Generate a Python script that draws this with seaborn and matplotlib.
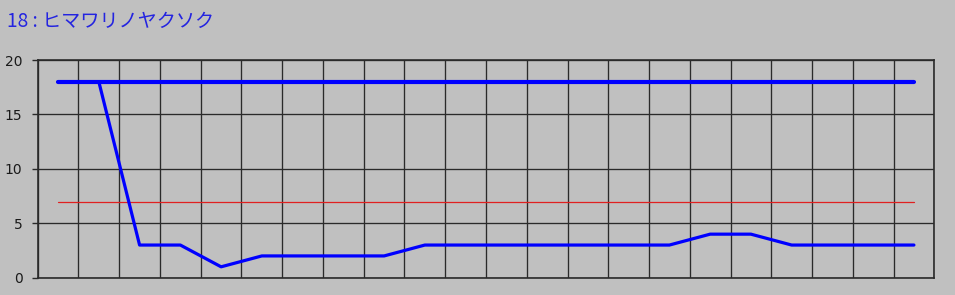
import numpy as np
import pandas as pd
import matplotlib
matplotlib.use("Agg")
import matplotlib.pyplot as plt
import seaborn as sns

title = "18 : ヒマワリノヤクソク"
positions = list(range(1, 23))
top_series = [18] * 22
rank_series = [18, 18, 3, 3, 1, 2, 2, 2, 2, 3, 3, 3, 3, 3, 3, 3, 4, 4, 3, 3, 3, 3]
avg_series = [7] * 22
y_ticks = [0, 5, 10, 15, 20]

sns.set_theme(style="white")
plt.rcParams['font.family'] = ['DejaVu Sans']

bg = "#c0c0c0"
fig = plt.figure(figsize=(9.55, 2.95), dpi=100, facecolor=bg)
ax = fig.add_axes([37.7 / 955, 1 - 277.7 / 295, (934.3 - 37.7) / 955, (277.7 - 60) / 295])
ax.set_facecolor(bg)

df = pd.DataFrame({"x": positions, "top": top_series, "rank": rank_series, "avg": avg_series})

sns.lineplot(data=df, x="x", y="avg", ax=ax, color="#e02020", linewidth=0.9, zorder=3)
sns.lineplot(data=df, x="x", y="top", ax=ax, color="#0000ff", linewidth=3.0, zorder=4)
sns.lineplot(data=df, x="x", y="rank", ax=ax, color="#0000ff", linewidth=2.3, zorder=5)

ax.set_xlim(0.5, 22.5)
ax.set_ylim(0, 20)
ax.set_xticks(np.arange(0.5, 23, 1.0))
ax.set_xticklabels([])
ax.set_yticks(y_ticks)
ax.set_yticklabels([str(v) for v in y_ticks])
ax.set_xlabel("")
ax.set_ylabel("")
ax.grid(True, color="#2a2a2a", linewidth=0.95)
ax.set_axisbelow(True)
ax.tick_params(axis="x", length=0)
ax.tick_params(axis="y", length=4, width=1, color="#2a2a2a", pad=7,
               labelsize=10, labelcolor="#1a1a1a", left=True)
for s in ax.spines.values():
    s.set_color("#2a2a2a")
    s.set_linewidth(1.2)
    s.set_visible(True)

fig.text(7 / 955, 1 - 27 / 295, title, color="#2424e0", fontsize=13.8,
         family=['Noto Sans CJK JP', 'DejaVu Sans'], va="baseline", ha="left")

fig.savefig("out.png", dpi=100, facecolor=bg)
